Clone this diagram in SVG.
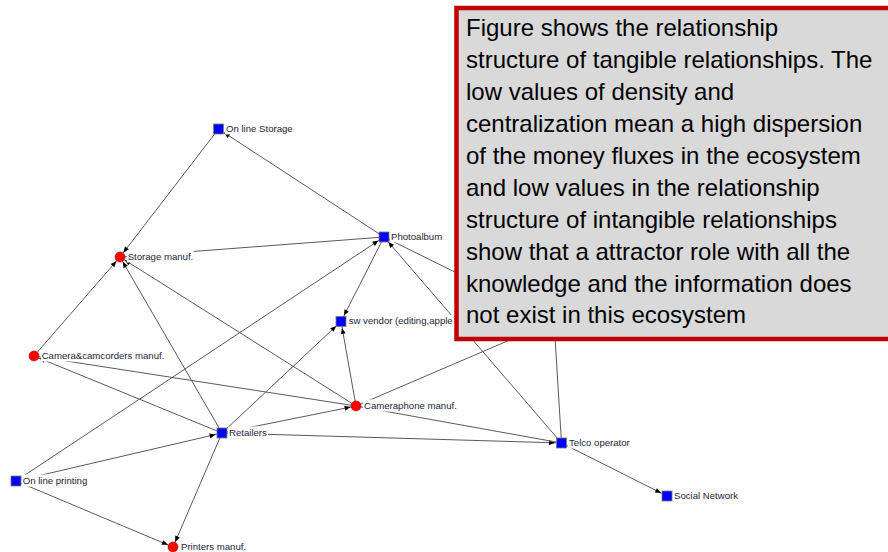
<svg xmlns="http://www.w3.org/2000/svg" width="888" height="552" viewBox="0 0 888 552">
<defs>
<style>
.e{stroke:#5a5a5a;stroke-width:1;fill:none}
.as{marker-end:url(#ms)}
.ac{marker-end:url(#mc)}
.sq{fill:#0000ff;stroke:#7a7a7a;stroke-width:0.8}
.ci{fill:#ff0000;stroke:#b00000;stroke-width:0.6}
.lb{font-family:"Liberation Sans",Arial,sans-serif;font-size:9.6px;fill:#1e1e3c}
.bg{fill:#ffffff}
.bx{font-family:"Liberation Sans",Arial,sans-serif;font-size:24px;fill:#000000}
</style>
<marker id="ms" markerUnits="userSpaceOnUse" markerWidth="20" markerHeight="8" refX="12.5" refY="2.5" orient="auto" overflow="visible"><path d="M0,0 L6,2.5 L0,5 z" fill="#000"/></marker>
<marker id="mc" markerUnits="userSpaceOnUse" markerWidth="20" markerHeight="8" refX="11.5" refY="2.5" orient="auto" overflow="visible"><path d="M0,0 L6,2.5 L0,5 z" fill="#000"/></marker>
</defs>
<rect width="888" height="552" fill="#ffffff"/>
<g id="connectors">
<line class="e as" x1="384" y1="237" x2="218.5" y2="129"/>
<line class="e ac" x1="218.5" y1="129" x2="120" y2="257"/>
<line class="e" x1="120" y1="257" x2="384" y2="237"/>
<line class="e ac" x1="34" y1="356" x2="120" y2="257"/>
<line class="e ac" x1="222" y1="433" x2="120" y2="257"/>
<line class="e ac" x1="356" y1="406" x2="120" y2="257"/>
<line class="e ac" x1="222" y1="433" x2="34" y2="356"/>
<line class="e" x1="356" y1="406" x2="34" y2="356"/>
<line class="e as" x1="16" y1="481" x2="384" y2="237"/>
<line class="e as" x1="16" y1="481" x2="222" y2="433"/>
<line class="e ac" x1="16" y1="481" x2="173" y2="547"/>
<line class="e ac" x1="222" y1="433" x2="173" y2="547"/>
<line class="e as" x1="222" y1="433" x2="341" y2="321.5"/>
<line class="e ac" x1="222" y1="433" x2="356" y2="406"/>
<line class="e as" x1="222" y1="433" x2="561.5" y2="443"/>
<line class="e as" x1="356" y1="406" x2="341" y2="321.5"/>
<line class="e as" x1="384" y1="237" x2="341" y2="321.5"/>
<line class="e as" x1="561.5" y1="443" x2="384" y2="237"/>
<line class="e" x1="356" y1="406" x2="561.5" y2="443"/>
<line class="e" x1="384" y1="237" x2="554" y2="321"/>
<line class="e" x1="356" y1="406" x2="554" y2="321"/>
<line class="e" x1="561.5" y1="443" x2="554" y2="321"/>
<line class="e as" x1="561.5" y1="443" x2="667" y2="496"/>
</g>
<g id="n-online-storage"><rect class="sq" x="213.5" y="124" width="10" height="10"/><rect class="bg" x="225" y="122.5" width="66" height="12"/><text class="lb" x="226" y="131.5">On line Storage</text></g>
<g id="n-storage-manuf"><circle class="ci" cx="120" cy="257" r="5"/><rect class="bg" x="126.7" y="250.5" width="67" height="12"/><text class="lb" x="127.7" y="259.5">Storage manuf.</text></g>
<g id="n-photoalbum"><rect class="sq" x="379" y="232" width="10" height="10"/><rect class="bg" x="390" y="230.5" width="53" height="12"/><text class="lb" x="391" y="239.5">Photoalbum</text></g>
<g id="n-sw-vendor"><rect class="sq" x="336" y="316.5" width="10" height="10"/><rect class="bg" x="347.7" y="315" width="106" height="12"/><text class="lb" x="348.7" y="324">sw vendor (editing,apple</text></g>
<g id="n-camera"><circle class="ci" cx="34" cy="356" r="5"/><rect class="bg" x="40.7" y="349.5" width="125" height="12"/><text class="lb" x="41.7" y="358.5">Camera&amp;camcorders manuf.</text></g>
<g id="n-retailers"><rect class="sq" x="217" y="428" width="10" height="10"/><rect class="bg" x="228" y="426.5" width="40" height="12"/><text class="lb" x="229" y="435.5">Retailers</text></g>
<g id="n-online-printing"><rect class="sq" x="11" y="476" width="10" height="10"/><rect class="bg" x="21.7" y="474.5" width="66" height="12"/><text class="lb" x="22.7" y="483.5">On line printing</text></g>
<g id="n-printers"><circle class="ci" cx="173" cy="547" r="5"/><rect class="bg" x="180" y="540.5" width="67" height="12"/><text class="lb" x="181" y="549.5">Printers manuf.</text></g>
<g id="n-cameraphone"><circle class="ci" cx="356" cy="406" r="5"/><rect class="bg" x="363" y="399.5" width="94" height="12"/><text class="lb" x="364" y="408.5">Cameraphone manuf.</text></g>
<g id="n-telco"><rect class="sq" x="556.5" y="438" width="10" height="10"/><rect class="bg" x="568" y="436.5" width="64" height="12"/><text class="lb" x="569" y="445.5">Telco operator</text></g>
<g id="n-social"><rect class="sq" x="662" y="491" width="10" height="10"/><rect class="bg" x="673" y="489.5" width="66" height="12"/><text class="lb" x="674" y="498.5">Social Network</text></g>
<g id="note">
<rect x="456.5" y="8" width="440" height="331" fill="#d9d9d9" stroke="#c00000" stroke-width="4.5"/>
<text class="bx" x="466" y="36">Figure shows the relationship</text>
<text class="bx" x="466" y="68">structure of tangible relationships. The</text>
<text class="bx" x="466" y="100">low values of density and</text>
<text class="bx" x="466" y="132">centralization mean a high dispersion</text>
<text class="bx" x="466" y="164">of the money fluxes in the ecosystem</text>
<text class="bx" x="466" y="196">and low values in the relationship</text>
<text class="bx" x="466" y="228">structure of intangible relationships</text>
<text class="bx" x="466" y="260">show that a attractor role with all the</text>
<text class="bx" x="466" y="292">knowledge and the information does</text>
<text class="bx" x="466" y="323">not exist in this ecosystem</text>
</g>
</svg>
